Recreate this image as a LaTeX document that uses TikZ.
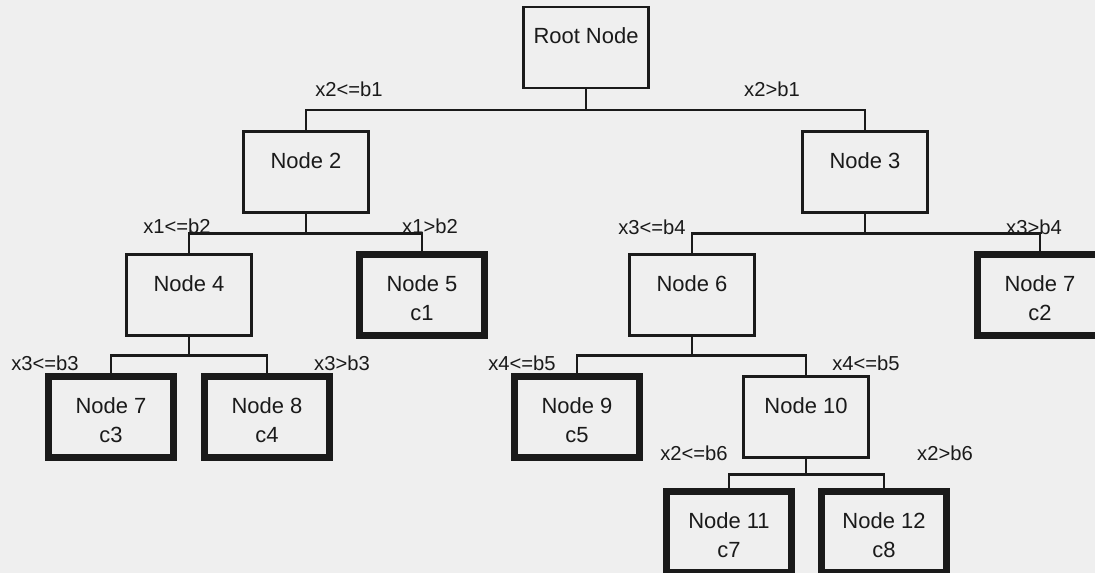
\documentclass[tikz,border=0pt]{standalone}
\usepackage{fontspec}
\setmainfont{Liberation Sans}
\definecolor{bgc}{HTML}{EFEFEF}
\definecolor{ink}{HTML}{1A1A1A}
\newcommand{\twoline}[2]{\rule{0pt}{17pt}#1\\\strut #2}

\begin{document}
\begin{tikzpicture}[
  x=0.02cm,y=-0.02cm,
  font=\fontsize{12.5}{16.4}\selectfont,
  box/.style={draw=ink,text=ink,line width=1.35pt,outer sep=0pt,inner sep=0pt,align=center,minimum width=2.5cm,minimum height=1.62cm},
  leaf/.style={box,line width=4pt},
  cond/.style={text=ink,inner sep=0pt,font=\fontsize{11.5}{13}\selectfont},
  link/.style={draw=ink,line width=1.35pt}]
\useasboundingbox[fill=bgc] (0,0) rectangle (1095,573);
\clip (0,0) rectangle (1095,573);
% decision nodes
\node[box] (root) at (586,47.5) {\twoline{Root Node}{}};
\node[box] (n2) at (306,172) {\twoline{Node 2}{}};
\node[box] (n3) at (865,172) {\twoline{Node 3}{}};
\node[box] (n4) at (189,295) {\twoline{Node 4}{}};
\node[box] (n6) at (692,295) {\twoline{Node 6}{}};
\node[box] (n10) at (806,417) {\twoline{Node 10}{}};
% leaves
\node[leaf] (n5) at (422,295) {\twoline{Node 5}{c1}};
\node[leaf] (n7r) at (1040,295) {\twoline{Node 7}{c2}};
\node[leaf] (n7) at (111,417) {\twoline{Node 7}{c3}};
\node[leaf] (n8) at (267,417) {\twoline{Node 8}{c4}};
\node[leaf] (n9) at (577,417) {\twoline{Node 9}{c5}};
\node[leaf] (n11) at (729,532) {\twoline{Node 11}{c7}};
\node[leaf] (n12) at (884,532) {\twoline{Node 12}{c8}};
\foreach \p/\c/\h in {root/n2/22,root/n3/22,n2/n4/21,n2/n5/21,n3/n6/21,n3/n7r/21,
    n4/n7/20,n4/n8/20,n6/n9/20,n6/n10/20,n10/n11/17,n10/n12/17}
  \draw[link] (\p.south) -- ++(0,\h) -| (\c.north);
% split conditions
\node[cond] (s1) at (349,89) {x2<=b1};
\node[cond] (s2) at (772,89) {x2>b1};
\node[cond] (s3) at (177,226) {x1<=b2};
\node[cond] (s4) at (430,226) {x1>b2};
\node[cond] (s5) at (652,227) {x3<=b4};
\node[cond] (s6) at (1034,227) {x3>b4};
\node[cond] (s7) at (45,363) {x3<=b3};
\node[cond] (s8) at (342,363) {x3>b3};
\node[cond] (s9) at (522,363) {x4<=b5};
\node[cond] (s10) at (866,363) {x4<=b5};
\node[cond] (s11) at (694,453) {x2<=b6};
\node[cond] (s12) at (945,453) {x2>b6};
\end{tikzpicture}
\end{document}
